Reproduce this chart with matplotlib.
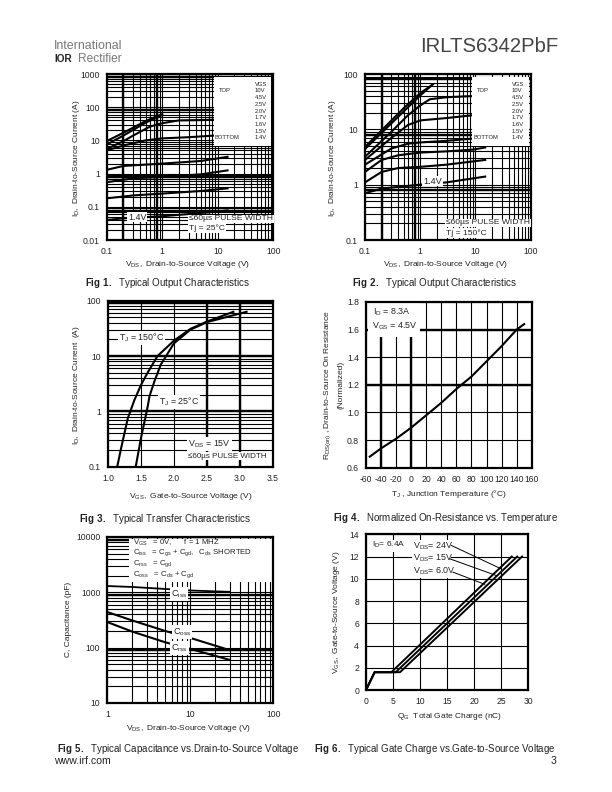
import matplotlib

matplotlib.use("Agg")
import matplotlib.pyplot as plt
from matplotlib.patches import Rectangle

plt.rcParams["font.family"] = ["Liberation Sans", "DejaVu Sans"]
plt.rcParams["mathtext.fontset"] = "custom"
plt.rcParams["mathtext.rm"] = "Liberation Sans"
plt.rcParams["mathtext.bf"] = "Liberation Sans:bold"
plt.rcParams["mathtext.default"] = "regular"
plt.rcParams["axes.unicode_minus"] = False

W, H = 612, 792

# Fig 1 / Fig 2 output characteristics, top to bottom VGS
VGS_LABELS = ["10V", "4.5V", "2.5V", "2.0V", "1.7V", "1.6V", "1.5V", "1.4V"]

fig1_vds = [
    [0.1, 0.2, 0.5, 1.0],
    [0.1, 0.2, 0.5, 1.0],
    [0.1, 0.2, 0.3, 0.6, 1.0, 2.0, 5.0, 9.0],
    [0.1, 0.2, 0.5, 1.0, 3.0, 9.0],
    [0.1, 0.2, 1.0, 5.0, 15.0],
    [0.1, 0.3, 1.0, 5.0, 15.0],
    [0.1, 0.3, 1.0, 5.0, 15.0],
    [0.1, 0.2, 1.0, 5.0, 15.0],
]
fig1_id = [
    [9.5, 17, 38, 62],
    [7.5, 14, 34, 58],
    [5.5, 9.5, 14, 26, 33, 40, 41, 42],
    [5.0, 7.0, 10, 11.5, 12.5, 14],
    [1.3, 1.7, 2.0, 2.4, 3.2],
    [0.55, 0.72, 0.8, 0.95, 1.25],
    [0.18, 0.22, 0.25, 0.3, 0.36],
    [0.04, 0.045, 0.052, 0.065, 0.078],
]

fig2_vds = [
    [0.1, 0.5, 1.0, 1.7],
    [0.1, 0.5, 1.0, 1.6],
    [0.1, 0.3, 0.6, 1.0, 1.5, 3.0, 9.0],
    [0.1, 0.3, 0.6, 1.0, 3.0, 9.0],
    [0.1, 0.3, 0.6, 1.0, 3.0, 9.0],
    [0.1, 0.2, 0.4, 1.0, 3.0, 9.0, 15.0],
    [0.1, 0.2, 0.4, 1.0, 3.0, 15.0],
    [0.1, 0.2, 1.0, 3.0, 15.0],
]
fig2_id = [
    [4.8, 24, 45, 65],
    [4.4, 21, 41, 62],
    [3.2, 9, 18, 27, 35, 38, 40],
    [2.8, 7, 12, 14.5, 16, 18],
    [2.3, 4.5, 5.5, 5.8, 6.2, 6.8],
    [1.7, 2.8, 3.4, 3.8, 4.0, 4.3, 4.7],
    [1.1, 1.7, 2.0, 2.1, 2.3, 2.8],
    [0.7, 0.85, 1.0, 1.1, 1.4],
]

# Fig 3 transfer characteristics
vgs_150 = [1.14, 1.2, 1.3, 1.4, 1.5, 1.6, 1.75, 2.0, 2.25, 2.5, 2.9]
id_150 = [0.1, 0.22, 0.75, 1.6, 3.0, 5.0, 10, 19, 31, 42, 63]
vgs_25 = [1.42, 1.5, 1.6, 1.63, 1.7, 1.8, 2.0, 2.25, 2.5, 3.1]
id_25 = [0.1, 0.33, 1.2, 1.9, 3.4, 7.0, 17, 30, 41, 63]

# Fig 4 normalized on-resistance
temp_c = [-55, -40, -20, 0, 20, 40, 60, 80, 100, 120, 140, 150]
rds_norm = [0.68, 0.74, 0.81, 0.89, 0.98, 1.07, 1.17, 1.26, 1.37, 1.48, 1.6, 1.64]

# Fig 5 capacitance
cap_vds = [1, 2, 5, 10, 30]
ciss = [1300, 1250, 1150, 1080, 1020]
coss = [440, 310, 200, 150, 90]
crss = [290, 195, 125, 95, 60]

# Fig 6 gate charge
qg_24v = [0, 1.6, 4.7, 27.0]
qg_15v = [0, 1.6, 5.5, 28.0]
qg_6v = [0, 1.6, 6.3, 28.9]
vgs_charge = [0, 1.6, 1.6, 12.0]
leader_x = [[15.8, 25.0], [15.5, 24.1], [16.1, 22.0]]
leader_y = [[13.0, 10.9], [11.8, 10.3], [10.6, 9.5]]

fig = plt.figure(figsize=(W / 100, H / 100), dpi=100)


def fx(x):
    return x / W


def fy(y):
    return 1 - y / H


def make_axes(x0, y0, x1, y1):
    ax = fig.add_axes([fx(x0), fy(y1), (x1 - x0) / W, (y1 - y0) / H])
    for s in ax.spines.values():
        s.set_linewidth(1.6)
        s.set_zorder(8)
    ax.tick_params(which="both", length=0, labelsize=6.2, pad=5, labelcolor="#222222")
    ax.grid(True, which="both", color="black", linewidth=0.8, zorder=1)
    ax.set_axisbelow(True)
    return ax


def log_axes(ax, xlim, ylim, xlabels, ylabels):
    ax.set_xscale("log")
    ax.set_yscale("log")
    ax.set_xlim(xlim)
    ax.set_ylim(ylim)
    ax.set_xticks([float(t) for t in xlabels], labels=xlabels)
    ax.set_yticks([float(t) for t in ylabels], labels=ylabels)
    ax.set_xticks([m * 10.0**e for e in range(-2, 4) for m in range(2, 10)
                   if xlim[0] < m * 10.0**e < xlim[1]], minor=True, labels=[])
    ax.set_yticks([m * 10.0**e for e in range(-3, 5) for m in range(2, 10)
                   if ylim[0] < m * 10.0**e < ylim[1]], minor=True, labels=[])


def thick(ax, xs=(), ys=()):
    for v in xs:
        ax.axvline(v, color="black", linewidth=1.7, zorder=1.5)
    for v in ys:
        ax.axhline(v, color="black", linewidth=1.7, zorder=1.5)


def box(ax, x0, y0, x1, y1, z=5):
    ax.add_patch(Rectangle((fx(x0), fy(y1)), (x1 - x0) / W, (y1 - y0) / H,
                           transform=fig.transFigure, facecolor="white",
                           edgecolor="none", zorder=z))


def text(x, y, s, size=6.0, ha="left", va="center", color="#222222", rotation=0, **kw):
    fig.text(fx(x), fy(y), s, fontsize=size, ha=ha, va=va, color=color,
             rotation=rotation, zorder=20, **kw)


def boxed(x, y, s, size=6.4, ha="left"):
    fig.text(fx(x), fy(y), s, fontsize=size, ha=ha, va="center", color="#222222", zorder=20,
             bbox=dict(facecolor="white", edgecolor="none", pad=0.6))


def caption(x, y, num, s):
    text(x, y, rf"$\mathbf{{Fig\ {num}.}}$  {s}", size=7.0)


def vgs_legend(ax, x0, x_top, x_val):
    box(ax, x0, 77, x0 + 57, 146)
    text(x_val, 84, "VGS", size=4.2)
    rows = [91 + i * 6.7 for i in range(len(VGS_LABELS))]
    for y, lab in zip(rows, VGS_LABELS):
        text(x_val, y, lab, size=4.2)
    text(x_top, rows[0], "TOP", size=4.2)
    text(x_top - 4, rows[-1], "BOTTOM", size=4.2)


# header
text(54, 46, "International", size=8.9, color="#777777")
text(54, 59.5, "IOR", size=7.2, color="#222222", fontweight="bold")
text(78, 59.5, "Rectifier", size=8.6, color="#777777")
text(558, 46, "IRLTS6342PbF", size=14.6, ha="right", color="#444444")

# Fig 1
ax1 = make_axes(106.7, 74, 273.3, 240)
log_axes(ax1, (0.1, 100), (0.01, 1000), ["0.1", "1", "10", "100"],
         ["0.01", "0.1", "1", "10", "100", "1000"])
thick(ax1, xs=[0.2, 0.8], ys=[800, 85, 0.8, 0.075])
for xs, ys in zip(fig1_vds, fig1_id):
    ax1.plot(xs, ys, color="black", linewidth=1.5, zorder=4)
vgs_legend(ax1, 214, 219, 255)
boxed(128, 217, "1.4V")
boxed(189, 219, "≤60µs PULSE WIDTH", size=6.1)
boxed(189, 228, "Tj = 25°C", size=6.1)
text(188, 265, r"$V_{DS},$ Drain-to-Source Voltage (V)", ha="center")
text(76, 158, r"$I_{D},$ Drain-to-Source Current (A)", ha="center", rotation=90)
caption(85, 283, 1, "Typical Output Characteristics")

# Fig 2
ax2 = make_axes(365, 74, 530.7, 240)
log_axes(ax2, (0.1, 100), (0.1, 100), ["0.1", "1", "10", "100"], ["0.1", "1", "10", "100"])
thick(ax2, xs=[0.2, 0.8], ys=[80, 8, 0.8])
for xs, ys in zip(fig2_vds, fig2_id):
    ax2.plot(xs, ys, color="black", linewidth=1.5, zorder=4)
vgs_legend(ax2, 472, 477, 512)
boxed(423, 181, "1.4V", size=6.6)
boxed(446, 223, "≤60µs PULSE WIDTH", size=6.1)
boxed(446, 233, "Tj = 150°C", size=6.1)
text(446, 265, r"$V_{DS},$ Drain-to-Source Voltage (V)", ha="center")
text(333, 158, r"$I_{D},$ Drain-to-Source Current (A)", ha="center", rotation=90)
caption(352, 283, 2, "Typical Output Characteristics")

# Fig 3
ax3 = make_axes(108, 300.7, 273, 466.7)
ax3.set_yscale("log")
ax3.set_xlim(1.0, 3.5)
ax3.set_ylim(0.1, 100)
ax3.set_xticks([1.0, 1.5, 2.0, 2.5, 3.0, 3.5], labels=["1.0", "1.5", "2.0", "2.5", "3.0", "3.5"])
ax3.set_yticks([0.1, 1, 10, 100], labels=["0.1", "1", "10", "100"])
ax3.set_yticks([m * 10.0**e for e in range(-1, 2) for m in range(2, 10)], minor=True, labels=[])
thick(ax3, xs=[2.5, 3.0], ys=[10, 1, 90])
ax3.plot(vgs_150, id_150, color="black", linewidth=1.5, zorder=4)
ax3.plot(vgs_25, id_25, color="black", linewidth=1.5, zorder=4)
boxed(119, 338, r"$T_{J}$ = 150°C")
boxed(159, 402, r"$T_{J}$ = 25°C")
boxed(188, 444, r"$V_{DS}$ = 15V")
boxed(188, 456, "≤60µs PULSE WIDTH", size=5.8)
text(191, 496, r"$V_{GS},$ Gate-to-Source Voltage (V)", ha="center")
text(77, 385, r"$I_{D},$ Drain-to-Source Current  (A)", ha="center", rotation=90)
caption(79, 519, 3, "Typical Transfer Characteristics")

# Fig 4
ax4 = make_axes(366, 302, 531.7, 467.7)
ax4.set_xlim(-60, 160)
ax4.set_ylim(0.6, 1.8)
ax4.set_xticks(range(-60, 161, 20))
ax4.set_yticks([0.6, 0.8, 1.0, 1.2, 1.4, 1.6, 1.8], labels=["0.6", "0.8", "1.0", "1.2", "1.4", "1.6", "1.8"])
thick(ax4, xs=[-40, 0], ys=[1.6, 1.2])
ax4.plot(temp_c, rds_norm, color="black", linewidth=1.5, zorder=4)
box(ax4, 368, 303, 420, 337)
text(373, 312, r"$I_{D}$ = 8.3A", size=6.4)
text(372, 326, r"$V_{GS}$ = 4.5V", size=6.4)
text(449, 494, r"$T_{J}$ , Junction Temperature (°C)", ha="center")
text(328, 385, r"$R_{DS(on)}$ , Drain-to-Source On Resistance", ha="center", rotation=90)
text(341, 385, "(Normalized)", ha="center", rotation=90)
caption(333, 518, 4, "Normalized On-Resistance vs. Temperature")

# Fig 5
ax5 = make_axes(107.3, 537, 273.3, 703)
log_axes(ax5, (1, 100), (10, 10000), ["1", "10", "100"], ["10", "100", "1000", "10000"])
thick(ax5, ys=[9000, 900, 90])
ax5.plot(cap_vds, ciss, color="black", linewidth=1.3, zorder=4)
ax5.plot(cap_vds, coss, color="black", linewidth=1.5, zorder=4)
ax5.plot(cap_vds, crss, color="black", linewidth=1.5, zorder=4)
box(ax5, 129, 539, 272, 582)
text(133, 543, r"$V_{GS}$   = 0V,      f = 1 MHZ", size=5.6)
text(133, 553, r"$C_{iss}$   = $C_{gs}$ + $C_{gd},$  $C_{ds}$ SHORTED", size=5.6)
text(133, 564, r"$C_{rss}$   = $C_{gd}$", size=5.6)
text(133, 575, r"$C_{oss}$   = $C_{ds}$ + $C_{gd}$", size=5.6)
boxed(171, 594, r"$C_{iss}$", size=6.6)
boxed(173, 632, r"$C_{oss}$", size=6.6)
boxed(171, 648, r"$C_{rss}$", size=6.6)
text(189, 729, r"$V_{DS},$ Drain-to-Source Voltage (V)", ha="center")
text(68, 619, "C, Capacitance (pF)", ha="center", rotation=90)
caption(57, 749, 5, "Typical Capacitance vs.Drain-to-Source Voltage")
text(54, 761, "www.irf.com", size=7.6)

# Fig 6
ax6 = make_axes(366, 534.3, 528, 690)
ax6.set_xlim(0, 30)
ax6.set_ylim(0, 14)
ax6.set_xticks(range(0, 31, 5))
ax6.set_yticks(range(0, 15, 2))
ax6.plot(qg_24v, vgs_charge, color="black", linewidth=1.4, zorder=4)
ax6.plot(qg_15v, vgs_charge, color="black", linewidth=1.4, zorder=4)
ax6.plot(qg_6v, vgs_charge, color="black", linewidth=1.4, zorder=4)
for lx, ly in zip(leader_x, leader_y):
    ax6.plot(lx, ly, color="black", linewidth=0.7, zorder=4)
box(ax6, 371, 540, 405, 552, z=3)
box(ax6, 412, 540, 451, 578, z=3)
text(372, 545, r"$I_{D}$= 6.4A")
text(413, 546, r"$V_{DS}$= 24V", size=6.4)
text(413, 558, r"$V_{DS}$= 15V", size=6.4)
text(413, 571, r"$V_{DS}$= 6.0V", size=6.4)
text(449, 716, r"$Q_{G}$  Total Gate Charge (nC)", ha="center")
text(337, 612, r"$V_{GS},$ Gate-to-Source Voltage (V)", ha="center", rotation=90)
caption(314, 749, 6, "Typical Gate Charge vs.Gate-to-Source Voltage")
text(551, 761, "3", size=7.6)

fig.savefig("out.png", dpi=100)
